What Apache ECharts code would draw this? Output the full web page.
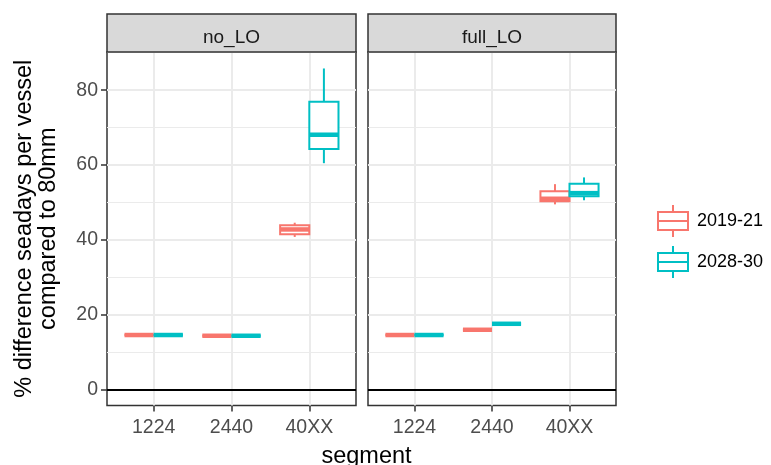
<!DOCTYPE html>
<html><head><meta charset="utf-8">
<script src="https://cdn.jsdelivr.net/npm/echarts@6.0.0/dist/echarts.min.js"></script>
<style>html,body{margin:0;padding:0;background:#fff}#c{width:771px;height:465px}</style>
</head><body><div id="c"></div>
<script>
// ---- data ----
const categories = ['1224', '2440', '40XX'];
const panels = ['no_LO', 'full_LO'];
const years = ['2019-21', '2028-30'];
const yTicks = [0, 20, 40, 60, 80];
const yMinorGrid = [10, 30, 50, 70, 90];
// [lower whisker, Q1, median, Q3, upper whisker] for each category
const noLO_2019 = [[14.6, 14.6, 14.6, 14.6, 14.6], [14.4, 14.4, 14.4, 14.4, 14.4], [40.8, 41.5, 42.8, 43.9, 44.6]];
const noLO_2028 = [[14.6, 14.6, 14.6, 14.6, 14.6], [14.4, 14.4, 14.4, 14.4, 14.4], [60.5, 64.3, 68.1, 76.9, 85.8]];
const fullLO_2019 = [[14.6, 14.6, 14.6, 14.6, 14.6], [16.0, 16.0, 16.0, 16.0, 16.0], [49.5, 50.3, 51.0, 53.0, 54.9]];
const fullLO_2028 = [[14.6, 14.6, 14.6, 14.6, 14.6], [17.6, 17.6, 17.6, 17.6, 17.6], [50.6, 51.7, 52.5, 55.0, 56.7]];
const panelData = [[noLO_2019, noLO_2028], [fullLO_2019, fullLO_2028]];
const colors = ['#F8766D', '#00BFC4'];

// ---- layout ----
const FONT = 'Liberation Sans';
const PT = 52, PB = 405.4;
const panelX = [[107, 356], [368, 616]];
const stripTop = 14;
const dodge = [-0.1875, 0.1875];
const half = 0.1875;

function makeRender(offset) {
  return function (params, api) {
    const x = api.value(0) + offset;
    const lo = api.value(1), q1 = api.value(2), md = api.value(3), q3 = api.value(4), hi = api.value(5);
    const tl = api.coord([x - half, q3]);
    const br = api.coord([x + half, q1]);
    const pLo = api.coord([x, lo]);
    const pHi = api.coord([x, hi]);
    const mL = api.coord([x - half, md]);
    const mR = api.coord([x + half, md]);
    const color = api.visual('color');
    return {
      type: 'group',
      children: [
        { type: 'line', shape: { x1: pHi[0], y1: pHi[1], x2: pHi[0], y2: tl[1] }, style: { stroke: color, lineWidth: 2 } },
        { type: 'line', shape: { x1: pLo[0], y1: br[1], x2: pLo[0], y2: pLo[1] }, style: { stroke: color, lineWidth: 2 } },
        { type: 'rect', shape: { x: tl[0], y: tl[1], width: br[0] - tl[0], height: br[1] - tl[1] }, style: { fill: '#fff', stroke: color, lineWidth: 2 } },
        { type: 'line', shape: { x1: mL[0], y1: mL[1], x2: mR[0], y2: mR[1] }, style: { stroke: color, lineWidth: 4.5 } }
      ]
    };
  };
}

const grids = [], xAxes = [], yAxes = [], series = [], graphics = [];
panels.forEach(function (pname, p) {
  const L = panelX[p][0], R = panelX[p][1];
  grids.push({ left: L, top: PT, width: R - L, height: PB - PT, show: true, borderColor: '#333333', borderWidth: 1.5, backgroundColor: '#fff' });
  xAxes.push({
    type: 'value', gridIndex: p, min: 0.4, max: 3.6,
    axisLine: { show: false, onZero: false },
    axisTick: { show: true, length: 6, lineStyle: { color: '#333333', width: 1.5 }, customValues: [1, 2, 3] },
    axisLabel: { show: true, margin: 12, fontSize: 19.5, color: '#4D4D4D', fontFamily: FONT, customValues: [1, 2, 3],
      formatter: function (v) { return categories[Math.round(v) - 1] || ''; } },
    splitLine: { show: false }, minorSplitLine: { show: false }
  });
  yAxes.push({
    type: 'value', gridIndex: p, min: -4.2, max: 90.2,
    axisLine: { show: false, onZero: false },
    axisTick: { show: p === 0, length: 6, lineStyle: { color: '#333333', width: 1.5 }, customValues: yTicks },
    axisLabel: { show: p === 0, margin: 9, fontSize: 19.5, color: '#4D4D4D', fontFamily: FONT, customValues: yTicks },
    splitLine: { show: false },
    name: p === 0 ? '% difference seadays per vessel\ncompared to 80mm' : '',
    nameLocation: 'middle', nameRotate: 90, nameGap: 46,
    nameTextStyle: { fontSize: 23.5, lineHeight: 24, color: '#000', fontFamily: FONT, align: 'center' }
  });
  const gridLines = [];
  yMinorGrid.forEach(function (v) { gridLines.push({ yAxis: v, lineStyle: { color: '#EBEBEB', width: 1, type: 'solid' } }); });
  yTicks.forEach(function (v) { gridLines.push({ yAxis: v, lineStyle: { color: '#EBEBEB', width: 2, type: 'solid' } }); });
  [1, 2, 3].forEach(function (v) { gridLines.push({ xAxis: v, lineStyle: { color: '#EBEBEB', width: 2, type: 'solid' } }); });
  gridLines.push({ yAxis: 0, lineStyle: { color: '#000', width: 1.8, type: 'solid' } });
  series.push({
    type: 'line', xAxisIndex: p, yAxisIndex: p, data: [], z: 1, silent: true,
    markLine: { silent: true, symbol: ['none', 'none'], label: { show: false }, animation: false, z: 1, emphasis: { disabled: true }, data: gridLines }
  });
  years.forEach(function (yname, k) {
    const arr = panelData[p][k];
    series.push({
      type: 'custom', name: yname, xAxisIndex: p, yAxisIndex: p, z: 3,
      itemStyle: { color: colors[k] },
      encode: { x: 0, y: [1, 2, 3, 4, 5] },
      renderItem: makeRender(dodge[k]),
      data: arr.map(function (d, i) { return [i + 1].concat(d); })
    });
  });
  graphics.push({ type: 'rect', shape: { x: L, y: stripTop, width: R - L, height: PT - stripTop }, style: { fill: '#D9D9D9', stroke: '#333333', lineWidth: 1.5 }, z: 10 });
  graphics.push({ type: 'text', x: (L + R) / 2, y: (stripTop + PT) / 2 + 5, style: { text: pname, fill: '#1A1A1A', font: '19px "Liberation Sans"', textAlign: 'center', textVerticalAlign: 'middle' }, z: 11 });
});

const boxIcon = 'path://M15,0L15,7M0,7L30,7L30,25L0,25ZM0,16L30,16M15,25L15,32';

const option = {
  animation: false,
  backgroundColor: '#fff',
  title: { text: 'segment', left: 361.5, textAlign: 'center', top: 440, textStyle: { fontSize: 23.5, fontWeight: 'normal', color: '#000', fontFamily: FONT } },
  grid: grids, xAxis: xAxes, yAxis: yAxes, series: series, graphic: graphics,
  legend: {
    orient: 'vertical', left: 652, top: 199, itemWidth: 30, itemHeight: 32, itemGap: 7, selectedMode: false,
    textStyle: { fontSize: 18, color: '#000', fontFamily: FONT, padding: [0, 0, 0, 4] },
    data: years.map(function (y, i) { return { name: y, icon: boxIcon, itemStyle: { color: 'rgba(0,0,0,0)', borderColor: colors[i], borderWidth: 2 } }; })
  }
};
echarts.init(document.getElementById('c')).setOption(option);
</script></body></html>
